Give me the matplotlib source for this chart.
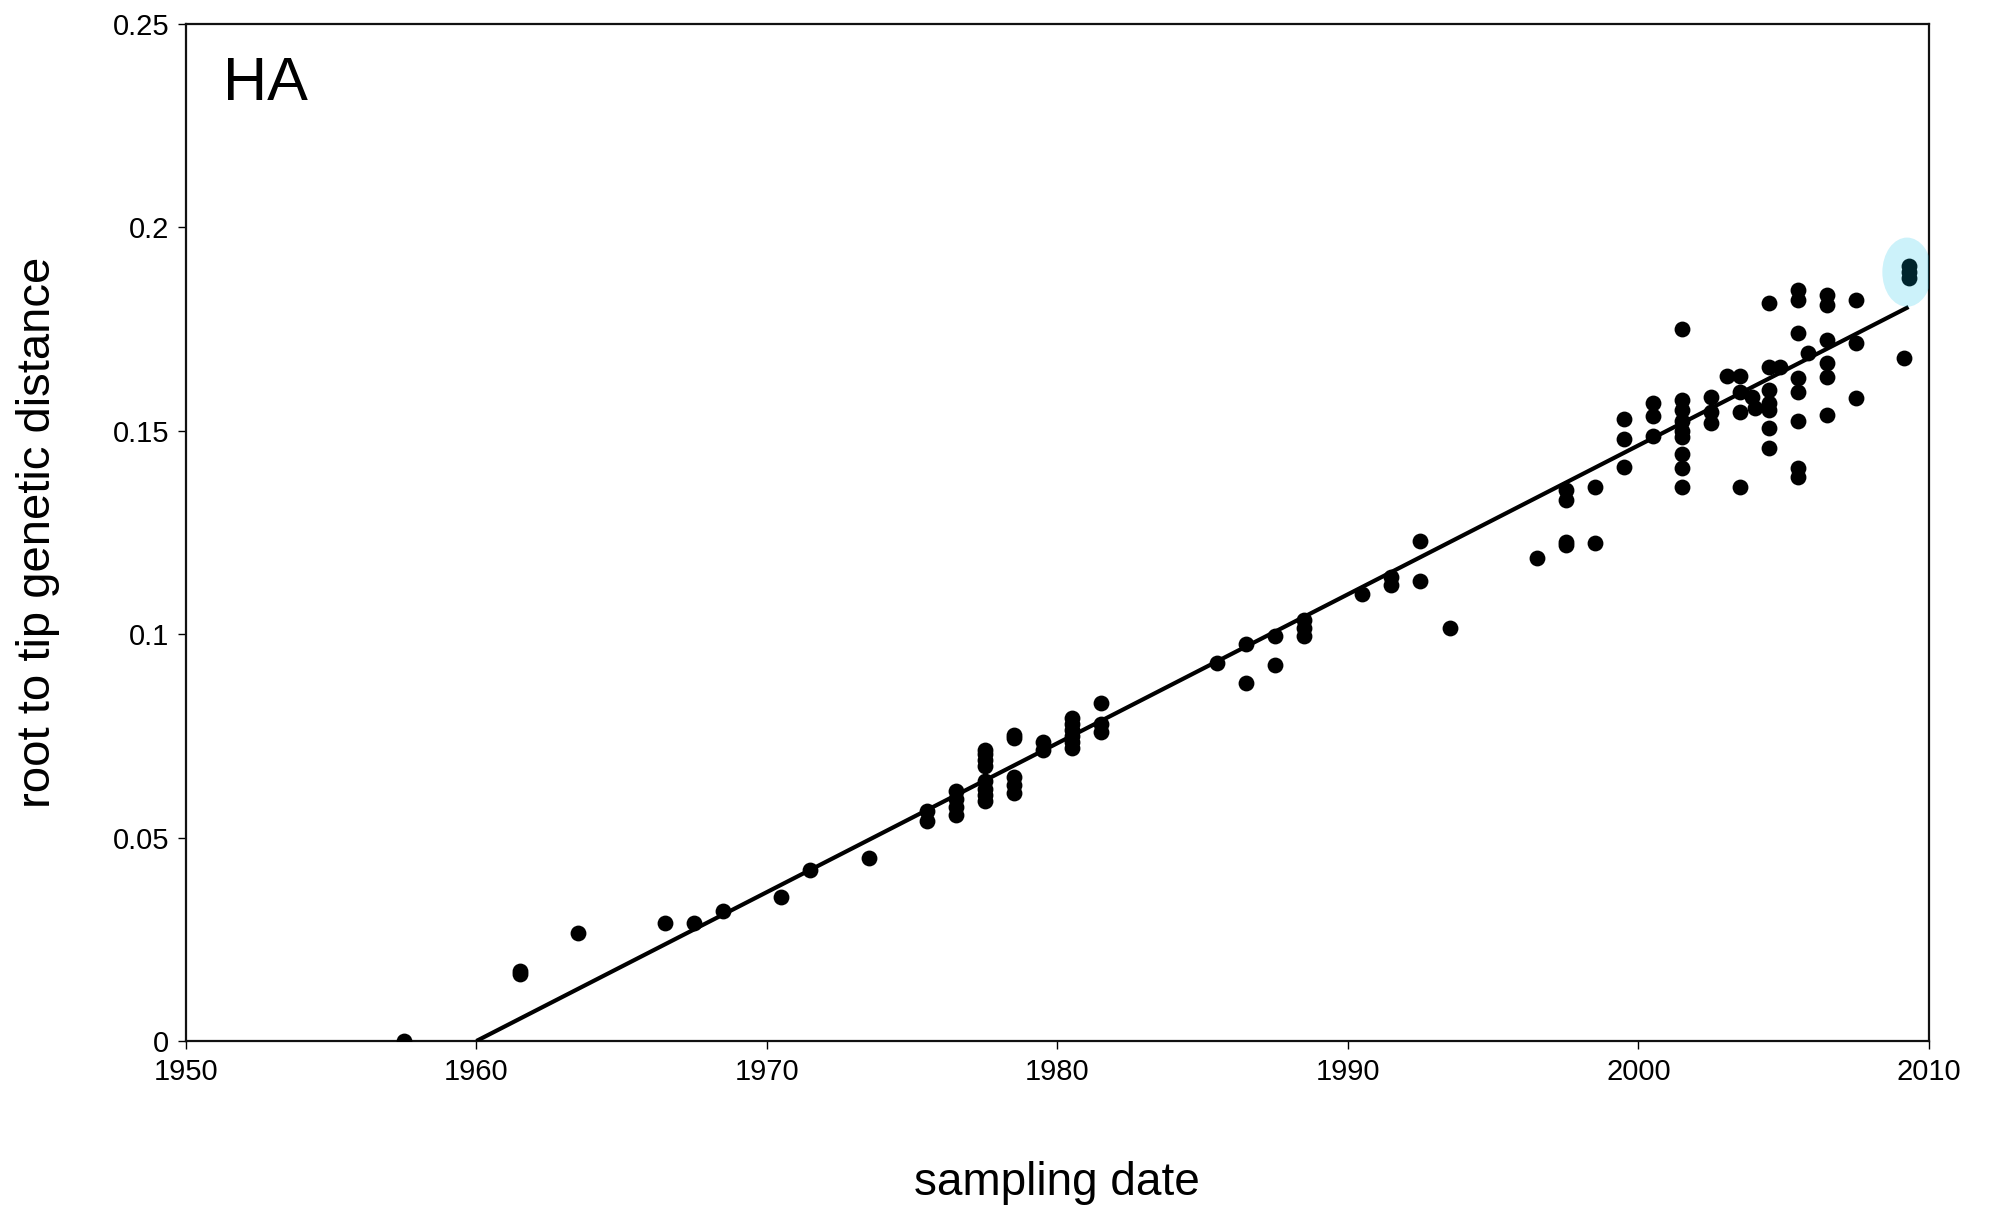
import numpy as np
import matplotlib
matplotlib.use("Agg")
import matplotlib.pyplot as plt
from matplotlib.patches import Ellipse

plt.rcParams['font.family'] = ['Liberation Sans', 'DejaVu Sans']

# root-to-tip distances per sampling year (HA segment)
dates = [1957.5,
         1961.5, 1961.5,
         1963.5, 1966.5, 1967.5, 1968.5, 1970.5, 1971.5, 1973.5,
         1975.5, 1975.5,
         1976.5, 1976.5, 1976.5, 1976.5,
         1977.5, 1977.5, 1977.5, 1977.5, 1977.5, 1977.5, 1977.5, 1977.5,
         1978.5, 1978.5, 1978.5, 1978.5, 1978.5,
         1979.5, 1979.5,
         1980.5, 1980.5, 1980.5, 1980.5, 1980.5, 1980.5,
         1981.5, 1981.5, 1981.5,
         1985.5,
         1986.5, 1986.5,
         1987.5, 1987.5,
         1988.5, 1988.5, 1988.5,
         1990.5,
         1991.5, 1991.5,
         1992.5, 1992.5,
         1993.5,
         1996.5,
         1997.5, 1997.5, 1997.5, 1997.5,
         1998.5, 1998.5,
         1999.5, 1999.5, 1999.5,
         2000.5, 2000.5, 2000.5,
         2001.5, 2001.5, 2001.5, 2001.5, 2001.5, 2001.5, 2001.5, 2001.5, 2001.5,
         2002.5, 2002.5, 2002.5,
         2003.05,
         2003.5, 2003.5, 2003.5, 2003.5,
         2003.9, 2004.0,
         2004.5, 2004.5, 2004.5, 2004.5, 2004.5, 2004.5, 2004.5,
         2004.87,
         2005.5, 2005.5, 2005.5, 2005.5, 2005.5, 2005.5, 2005.5, 2005.5,
         2005.83,
         2006.5, 2006.5, 2006.5, 2006.5, 2006.5, 2006.5,
         2007.5, 2007.5, 2007.5,
         2009.15,
         2009.3, 2009.3, 2009.3]

distance = [0.000,
            0.0165, 0.0172,
            0.0265, 0.029, 0.029, 0.032, 0.0355, 0.042, 0.045,
            0.054, 0.0565,
            0.0555, 0.0575, 0.0595, 0.0615,
            0.059, 0.0605, 0.062, 0.064, 0.0675, 0.069, 0.0705, 0.0715,
            0.061, 0.063, 0.065, 0.0745, 0.0752,
            0.0715, 0.0735,
            0.072, 0.0735, 0.075, 0.0765, 0.078, 0.0795,
            0.076, 0.078, 0.083,
            0.093,
            0.088, 0.0975,
            0.0925, 0.0995,
            0.0995, 0.1015, 0.1035,
            0.110,
            0.112, 0.114,
            0.113, 0.123,
            0.1015,
            0.1187,
            0.122, 0.1227, 0.133, 0.1355,
            0.1224, 0.1362,
            0.141, 0.148, 0.153,
            0.1487, 0.1536, 0.1568,
            0.1362, 0.1409, 0.1443, 0.1485, 0.150, 0.1525, 0.155, 0.1575, 0.175,
            0.152, 0.1546, 0.1583,
            0.1635,
            0.1362, 0.1546, 0.1595, 0.1635,
            0.1583, 0.1556,
            0.1458, 0.1507, 0.155, 0.1568, 0.160, 0.1657, 0.1814,
            0.1657,
            0.1386, 0.1409, 0.1524, 0.1595, 0.163, 0.174, 0.1822, 0.1846,
            0.1691,
            0.1539, 0.1632, 0.1667, 0.1723, 0.181, 0.1834,
            0.158, 0.1716, 0.1822,
            0.168,
            0.1875, 0.189, 0.1905]

# regression: root date and substitution rate
root_year = 1960.0
rate = 0.00366

# 2009 pandemic samples (highlighted)
pandemic_date = 2009.25
pandemic_dist = 0.189

x_ticks = [1950, 1960, 1970, 1980, 1990, 2000, 2010]
y_ticks = [0, 0.05, 0.1, 0.15, 0.2, 0.25]
y_tick_labels = ["0", "0.05", "0.1", "0.15", "0.2", "0.25"]

dates = np.array(dates)
distance = np.array(distance)

fig = plt.figure(figsize=(19.99, 12.13), dpi=100)
ax = fig.add_axes([0.0930, 0.1418, 0.8719, 0.8384])

ax.scatter(dates, distance, s=130, color="black", zorder=3, linewidths=0)

# regression line from the root date to the latest sample
line_x = np.array([root_year, dates.max()])
ax.plot(line_x, rate * (line_x - root_year), color="black", lw=3, zorder=4,
        solid_capstyle="butt")

ax.add_patch(Ellipse((pandemic_date, pandemic_dist), 1.7, 0.017,
                     facecolor=(0, 190/255, 230/255), alpha=0.2,
                     edgecolor="none", zorder=5))

ax.set_xlim(1950, 2010)
ax.set_ylim(0, 0.25)
ax.set_xticks(x_ticks)
ax.set_yticks(y_ticks)
ax.set_yticklabels(y_tick_labels)
ax.tick_params(direction="out", length=6, width=1, labelsize=21, pad=6)

for sp in ax.spines.values():
    sp.set_linewidth(1.6)
    sp.set_color("#111111")

ax.set_xlabel("sampling date", fontsize=33, labelpad=54)
ax.set_ylabel("root to tip genetic distance", fontsize=34, labelpad=38)

ax.text(0.0215, 0.925, "HA", transform=ax.transAxes, fontsize=44,
        va="baseline", ha="left")

fig.savefig("out.png", dpi=100)
